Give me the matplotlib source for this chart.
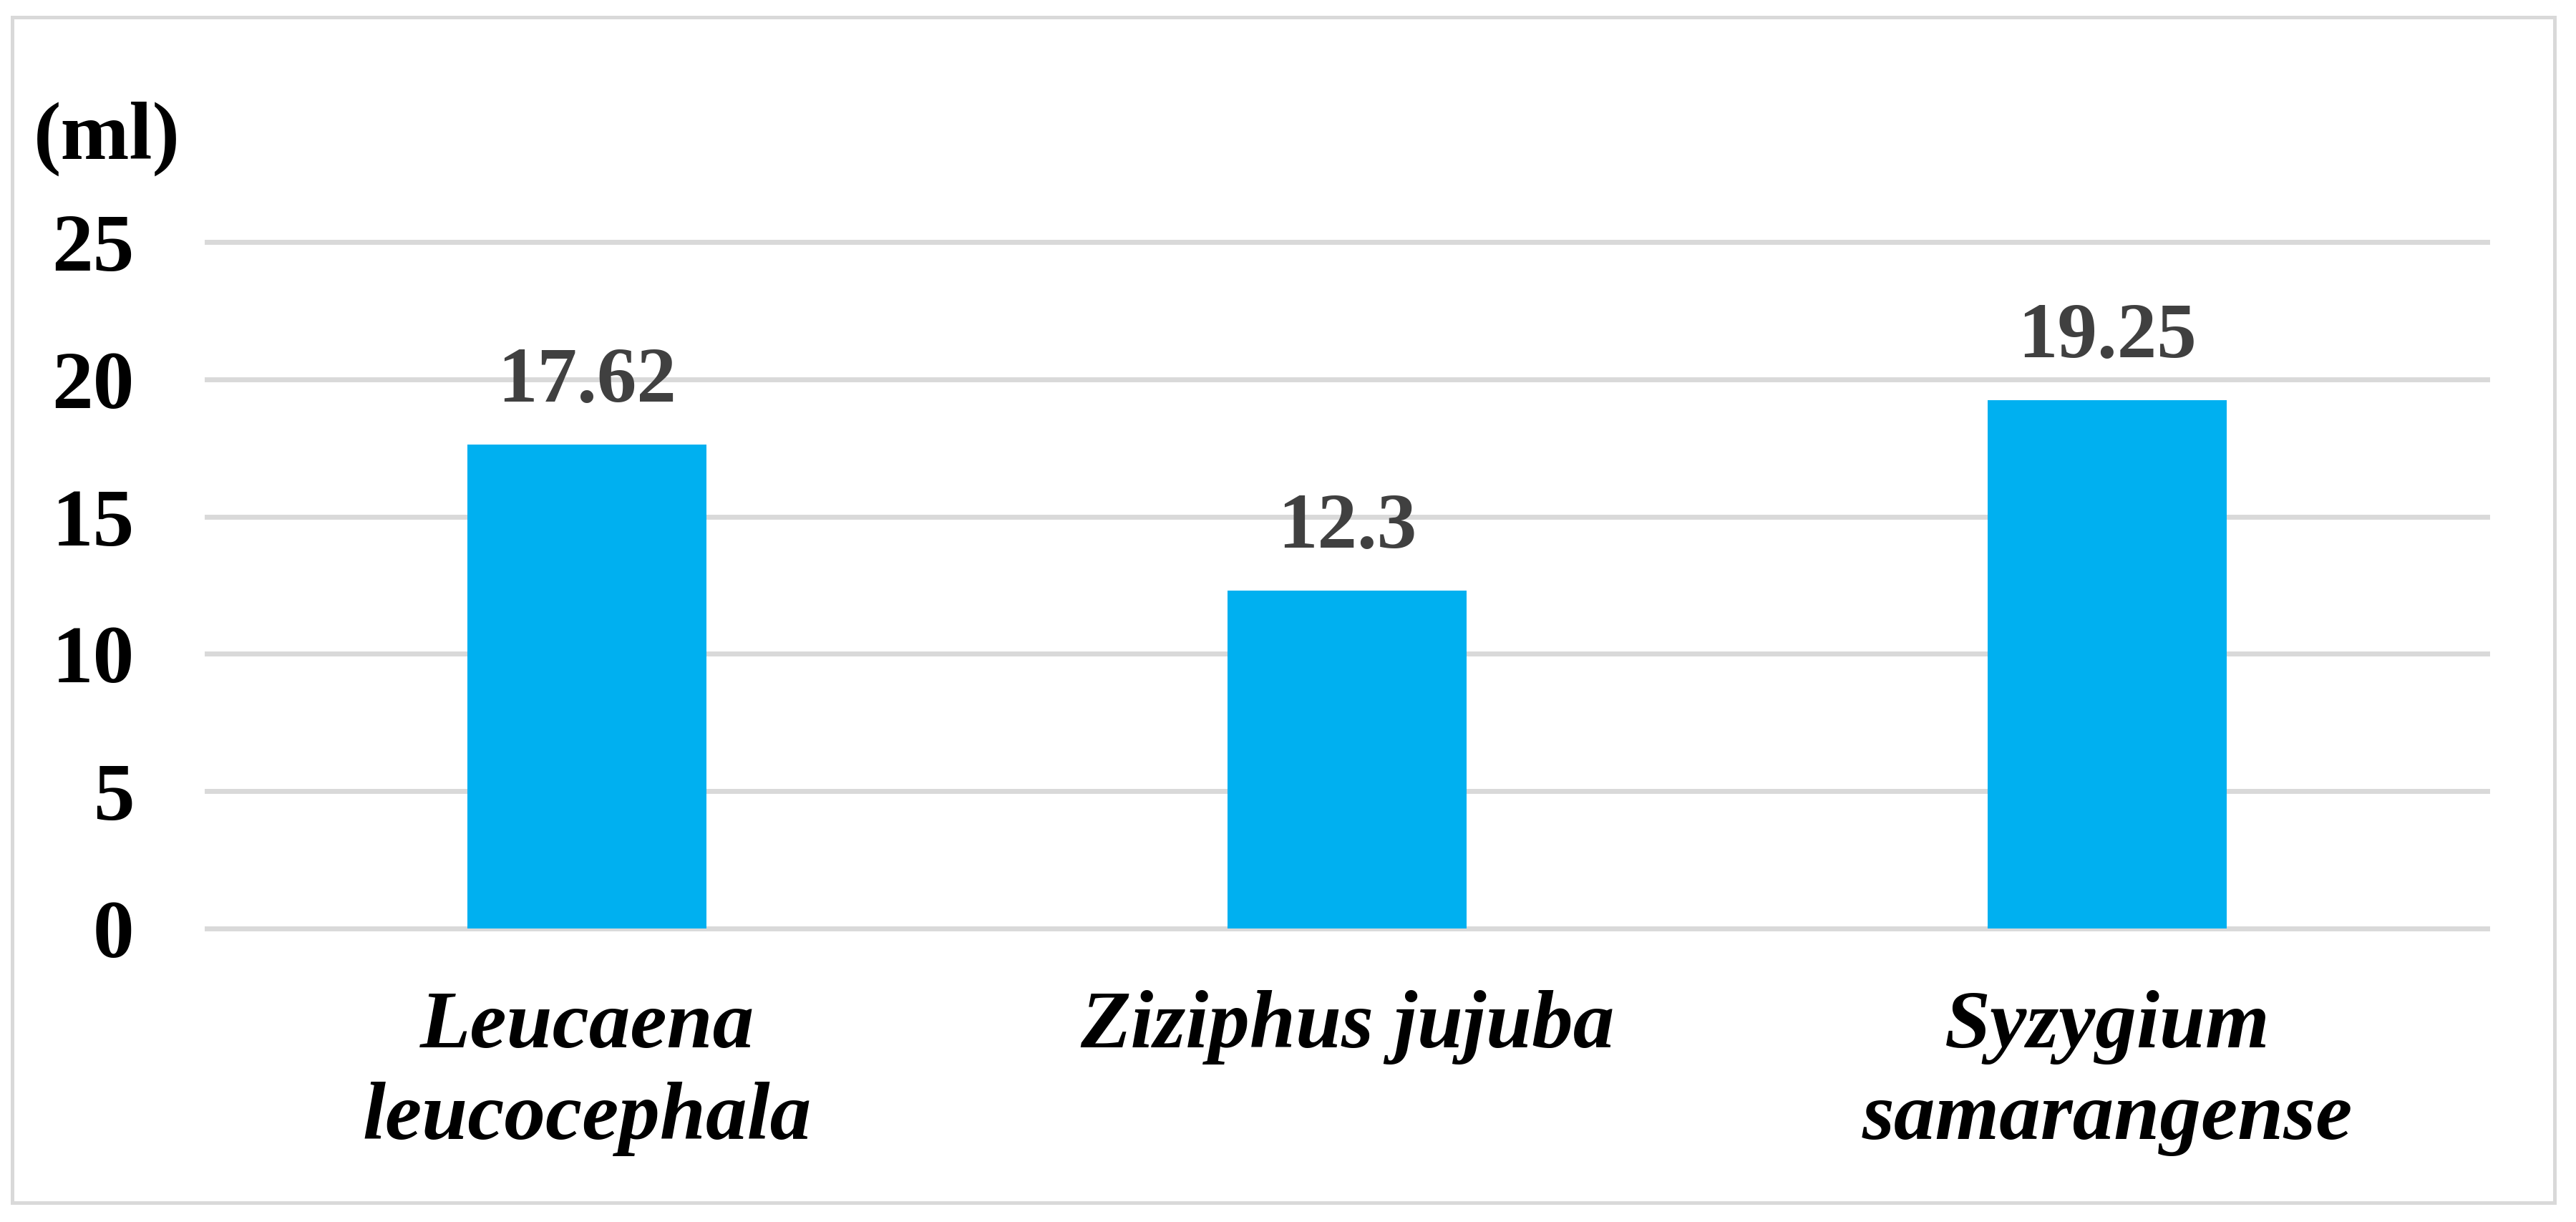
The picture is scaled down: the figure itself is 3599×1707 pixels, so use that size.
import matplotlib
matplotlib.use("Agg")
import matplotlib.pyplot as plt
from matplotlib import font_manager
from matplotlib.patches import Rectangle

species = ["Leucaena\nleucocephala", "Ziziphus jujuba", "Syzygium\nsamarangense"]
volumes = [17.62, 12.3, 19.25]
value_labels = ["17.62", "12.3", "19.25"]
y_ticks = [0, 5, 10, 15, 20, 25]

plt.rcParams['font.family'] = ['Liberation Serif', 'DejaVu Serif']
plt.rcParams['font.weight'] = 'bold'

# bold italic Times-like face for the species names
bi_file = None
for f in font_manager.fontManager.ttflist:
    if f.name == 'Liberation Serif' and f.style == 'italic' and f.weight in (700, 'bold'):
        bi_file = f.fname
if bi_file:
    italic_fp = font_manager.FontProperties(fname=bi_file, size=83)
else:
    italic_fp = font_manager.FontProperties(family='Liberation Serif', style='italic',
                                            weight='bold', size=83)

fig = plt.figure(figsize=(35.99, 17.07), dpi=100)
ax = fig.add_axes([0.0803, 0.2402, 0.8853, 0.5618])

x = range(len(species))
ax.bar(x, volumes, width=0.314, color='#00B0F0', zorder=3)

for v in y_ticks:
    ax.axhline(v, color='#D9D9D9', lw=5, clip_on=False, zorder=1)

for xi, v, lab in zip(x, volumes, value_labels):
    ax.annotate(lab, (xi, v), xytext=(0, 43), textcoords='offset points',
                ha='center', va='baseline', fontsize=80, fontweight='bold',
                color='#404040')

ax.set_xlim(-0.5, 2.5)
ax.set_ylim(0, 25)
ax.set_yticks(y_ticks)
ax.set_yticklabels([str(t) for t in y_ticks], fontsize=83, fontweight='bold')
ax.set_xticks(list(x))
ax.set_xticklabels(species, fontproperties=italic_fp, linespacing=1.3)
ax.tick_params(axis='y', length=0, pad=73)
ax.tick_params(axis='x', length=0, pad=62)
for s in ax.spines.values():
    s.set_visible(False)

fig.text(47 / 3599, 1 - 194 / 1707, "(ml)", fontsize=83, fontweight='bold',
         ha='left', va='center')

fig.patches.append(Rectangle((17 / 3599, 27 / 1707), 3552 / 3599, 1656 / 1707,
                             transform=fig.transFigure, fill=False,
                             edgecolor='#D9D9D9', lw=3.6))

fig.savefig("out.png", dpi=100)
